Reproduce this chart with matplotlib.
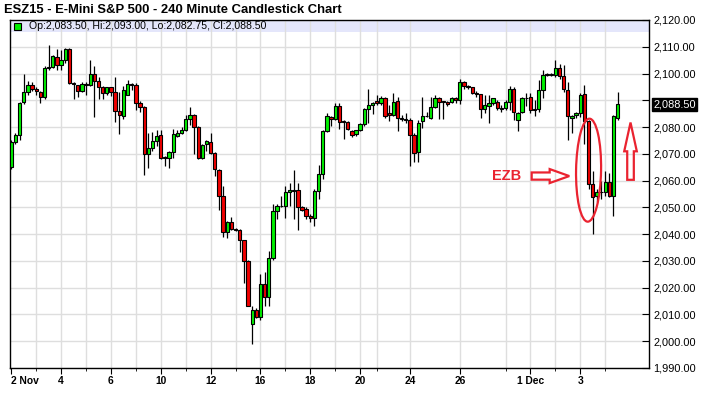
import numpy as np
import matplotlib
matplotlib.use("Agg")
from matplotlib import pyplot as plt
from matplotlib.patches import Polygon, Ellipse, Rectangle
from matplotlib.transforms import Affine2D, ScaledTranslation, IdentityTransform

# 240-minute bars (index 0 = first bar of 2 Nov)
opens = [2065.0, 2074.4, 2077.0, 2089.4, 2093.1, 2095.9, 2094.4, 2093.1, 2091.2, 2101.9,
         2102.5, 2106.3, 2103.1, 2105.2, 2109.0, 2096.6, 2095.6, 2093.4, 2096.2, 2095.9,
         2100.0, 2097.1, 2095.0, 2092.9, 2094.8, 2093.1, 2085.9, 2084.1, 2092.1, 2096.0,
         2095.7, 2089.1, 2087.4, 2070.0, 2072.2, 2074.7, 2077.0, 2068.8, 2068.5, 2070.7,
         2076.8, 2077.8, 2078.9, 2083.0, 2084.4, 2080.2, 2068.5, 2073.5, 2074.4, 2070.4,
         2063.8, 2054.1, 2040.7, 2044.7, 2042.0, 2041.7, 2037.7, 2030.0, 2006.5, 2011.5,
         2008.9, 2021.4, 2016.7, 2031.1, 2048.8, 2050.4, 2050.4, 2055.6, 2056.4, 2056.5,
         2050.0, 2049.4, 2046.9, 2045.9, 2056.2, 2062.6, 2078.6, 2083.7, 2083.0, 2087.7,
         2082.2, 2082.0, 2078.5, 2077.3, 2078.8, 2081.1, 2086.7, 2088.1, 2089.9, 2088.9,
         2090.7, 2085.2, 2084.6, 2089.9, 2083.3, 2083.0, 2082.7, 2077.2, 2070.6, 2082.3,
         2084.0, 2083.3, 2087.4, 2090.7, 2089.3, 2089.5, 2089.5, 2090.7, 2090.1, 2096.7,
         2095.4, 2094.8, 2092.8, 2092.2, 2086.8, 2088.0, 2088.9, 2089.5, 2087.3, 2087.0,
         2089.5, 2094.4, 2082.7, 2085.8, 2090.7, 2091.4, 2086.7, 2086.7, 2093.8, 2099.4,
         2099.6, 2099.4, 2102.2, 2099.0, 2093.8, 2083.3, 2084.6, 2085.2, 2092.2, 2082.1,
         2058.6, 2054.3, 2055.6, 2055.6, 2059.5, 2054.3, 2083.5]
highs = [2075.0, 2077.8, 2089.5, 2100.0, 2097.2, 2096.9, 2095.0, 2093.5, 2102.9, 2110.6,
         2106.9, 2109.1, 2108.8, 2109.6, 2109.5, 2096.9, 2095.9, 2096.9, 2096.9, 2105.0,
         2103.0, 2098.8, 2095.4, 2095.0, 2095.0, 2098.8, 2093.0, 2095.2, 2097.5, 2096.3,
         2096.3, 2089.9, 2087.7, 2077.8, 2078.0, 2079.0, 2078.8, 2069.1, 2071.0, 2079.3,
         2078.8, 2080.2, 2084.6, 2087.4, 2084.7, 2080.5, 2073.5, 2075.3, 2077.8, 2070.6,
         2064.2, 2058.0, 2045.1, 2046.3, 2042.3, 2042.0, 2037.9, 2030.2, 2013.0, 2012.3,
         2025.3, 2025.9, 2033.6, 2051.2, 2051.2, 2054.3, 2058.0, 2059.0, 2063.8, 2059.0,
         2050.6, 2050.0, 2047.5, 2056.8, 2065.7, 2079.0, 2085.2, 2084.2, 2088.9, 2089.1,
         2082.7, 2082.2, 2078.8, 2079.0, 2081.5, 2087.0, 2094.4, 2089.5, 2092.0, 2091.6,
         2091.3, 2088.3, 2092.9, 2091.4, 2084.6, 2085.2, 2083.3, 2077.8, 2082.7, 2091.4,
         2085.8, 2091.4, 2091.9, 2091.4, 2089.8, 2089.9, 2091.4, 2091.4, 2097.9, 2097.2,
         2095.7, 2095.1, 2093.4, 2092.2, 2091.9, 2092.1, 2090.9, 2090.1, 2088.3, 2090.1,
         2095.2, 2095.1, 2085.8, 2091.4, 2092.8, 2092.6, 2090.1, 2097.5, 2101.2, 2100.1,
         2100.1, 2105.2, 2103.7, 2103.1, 2096.9, 2084.6, 2085.8, 2092.6, 2095.7, 2082.5,
         2063.6, 2056.8, 2059.7, 2063.6, 2063.0, 2084.6, 2093.0]
lows = [2064.4, 2073.8, 2075.0, 2088.8, 2092.0, 2093.4, 2092.0, 2089.0, 2090.6, 2101.2,
        2101.9, 2101.2, 2101.5, 2104.0, 2096.0, 2090.6, 2091.2, 2093.0, 2091.9, 2095.2,
        2083.8, 2090.6, 2090.6, 2091.9, 2091.6, 2081.9, 2077.5, 2083.1, 2091.9, 2093.8,
        2086.4, 2085.8, 2062.0, 2064.8, 2071.0, 2073.0, 2068.1, 2065.4, 2064.8, 2068.5,
        2076.3, 2077.5, 2078.5, 2080.9, 2069.8, 2067.9, 2068.1, 2071.0, 2069.8, 2061.7,
        2049.1, 2038.9, 2038.5, 2041.4, 2041.2, 2033.3, 2021.6, 2013.0, 1998.8, 2008.6,
        2008.0, 2013.3, 2013.3, 2030.2, 2045.7, 2050.0, 2045.9, 2050.4, 2045.7, 2041.7,
        2048.8, 2045.7, 2044.7, 2043.2, 2053.1, 2060.5, 2078.3, 2080.5, 2082.5, 2079.4,
        2075.6, 2079.0, 2076.3, 2076.8, 2078.5, 2080.5, 2081.5, 2084.9, 2088.3, 2088.3,
        2083.3, 2082.1, 2084.0, 2078.4, 2082.1, 2081.5, 2065.4, 2067.0, 2067.0, 2079.6,
        2083.9, 2083.0, 2087.0, 2083.0, 2083.0, 2088.0, 2089.0, 2089.0, 2088.5, 2094.4,
        2094.4, 2092.2, 2091.4, 2083.3, 2085.2, 2081.5, 2088.3, 2086.4, 2085.8, 2086.4,
        2086.4, 2082.5, 2078.4, 2085.2, 2087.9, 2085.2, 2084.0, 2085.8, 2090.7, 2099.0,
        2099.0, 2098.8, 2098.1, 2093.2, 2075.3, 2077.8, 2083.3, 2083.9, 2073.5, 2056.8,
        2040.1, 2051.9, 2053.0, 2054.4, 2053.7, 2046.9, 2082.75]
closes = [2074.4, 2076.9, 2089.1, 2093.1, 2095.9, 2094.1, 2093.4, 2091.2, 2101.9, 2102.5,
          2106.6, 2103.1, 2105.2, 2109.0, 2096.6, 2096.2, 2093.5, 2096.2, 2095.6, 2100.0,
          2097.1, 2095.0, 2092.9, 2094.8, 2093.1, 2085.9, 2084.4, 2093.8, 2096.0, 2095.6,
          2089.1, 2087.4, 2070.0, 2072.2, 2074.7, 2076.8, 2068.5, 2068.5, 2070.7, 2077.3,
          2077.8, 2078.9, 2083.0, 2084.4, 2080.2, 2068.5, 2073.2, 2074.9, 2070.4, 2064.2,
          2054.1, 2040.7, 2044.7, 2042.0, 2041.7, 2037.7, 2030.0, 2013.3, 2011.5, 2008.9,
          2021.4, 2016.7, 2031.1, 2048.8, 2050.4, 2050.6, 2055.6, 2056.4, 2056.2, 2050.0,
          2049.1, 2046.9, 2045.9, 2056.2, 2062.6, 2078.6, 2084.0, 2083.0, 2087.7, 2082.0,
          2082.0, 2079.3, 2077.0, 2078.8, 2081.1, 2086.7, 2088.1, 2089.1, 2088.9, 2090.7,
          2084.0, 2084.6, 2089.5, 2083.3, 2083.0, 2082.7, 2077.2, 2070.4, 2081.7, 2084.0,
          2084.2, 2087.4, 2090.7, 2089.3, 2089.3, 2088.5, 2090.7, 2090.1, 2096.7, 2095.4,
          2095.1, 2092.8, 2092.2, 2086.8, 2088.3, 2088.9, 2090.7, 2087.0, 2086.8, 2089.3,
          2094.4, 2085.8, 2085.2, 2090.7, 2091.0, 2086.4, 2086.4, 2093.8, 2099.4, 2099.6,
          2099.4, 2102.2, 2099.0, 2094.1, 2084.0, 2084.3, 2085.2, 2092.0, 2082.1, 2058.6,
          2053.7, 2055.8, 2055.8, 2059.5, 2054.3, 2084.0, 2088.5]

date_ticks = [0, 12, 24, 36, 48, 60, 72, 84, 96, 108, 125, 137]
date_labels = ["2 Nov", "4", "6", "10", "12", "16", "18", "20", "24", "26", "1 Dec", "3"]
day_lines = [6, 12, 18, 24, 30, 36, 42, 48, 54, 60, 66, 72, 78, 84, 88, 96, 108,
             119, 125, 131, 137, 143]
price_ticks = np.arange(1990, 2121, 10)
last_price = 2088.50

title = "ESZ15 - E-Mini S&P 500 - 240 Minute Candlestick Chart"
ohlc_text = "Op:2,083.50, Hi:2,093.00, Lo:2,082.75, Cl:2,088.50"

# annotation anchors (bar index, price)
ezb_pos = (119.2, 2061.7)
right_arrow_pos = (125.3, 2061.7)
ellipse_pos = (139.0, 2063.9)
up_arrow_pos = (149.1, 2060.3)

GREEN = "#00f000"
RED = "#f00000"
ANNOT = "#ea2330"

o = np.array(opens)
h = np.array(highs)
l = np.array(lows)
c = np.array(closes)
x = np.arange(len(o))

W, H = 712, 396
fig = plt.figure(figsize=(W / 100, H / 100), dpi=100)
ax = fig.add_axes([10 / W, 28 / H, 639 / W, 348 / H])

ax.set_xlim(-0.31, 153.55)
ax.set_ylim(1990, 2120)

# header band
ax.axhspan(2120 - 12 / 2.68, 2120, color="#e4e6fb", zorder=0, lw=0)

for p in price_ticks:
    ax.axhline(p, color="#dedede", lw=1, zorder=1)
for d in day_lines:
    ax.axvline(d, color="#dedede", lw=1, zorder=1)

ax.vlines(x, l, h, color="black", lw=0.9, zorder=2)
body_lo = np.minimum(o, c)
body_h = np.maximum(np.abs(c - o), 0.3)
colors = np.where(c >= o, GREEN, RED)
ax.bar(x, body_h, bottom=body_lo, width=0.8, color=colors,
       edgecolor="black", linewidth=0.8, zorder=3)

# axes styling
for side in ["left", "right", "bottom", "top"]:
    ax.spines[side].set_linewidth(1)
    ax.spines[side].set_color("black")

ax.yaxis.tick_right()
ax.set_yticks(price_ticks)
ax.set_yticklabels(["" if p == 2090 else f"{p:,.2f}" for p in price_ticks],
                   family="Liberation Sans", fontsize=7.9)
ax.tick_params(axis="y", direction="in", length=5, pad=3, right=True, left=False)

ax.set_xticks(date_ticks)
ax.set_xticklabels(date_labels, family=["Liberation Sans Narrow", "Liberation Sans"],
                   fontsize=7.4, fontweight="bold")
ax.set_xticks(day_lines, minor=True)
ax.tick_params(axis="x", which="major", direction="out", length=4, pad=2)
ax.tick_params(axis="x", which="minor", direction="out", length=2)
# keep the first date label inside the picture
first = ax.get_xticklabels()[0]
first.set_horizontalalignment("left")
first.set_x(-0.31)

# last price tag
ax.text(1 + 4 / 639, last_price, f"{last_price:,.2f}", transform=ax.get_yaxis_transform(),
        ha="left", va="center", color="white", family="Liberation Sans", fontsize=7.9,
        bbox=dict(boxstyle="square,pad=0.12", facecolor="black", edgecolor="black"))

# title and OHLC line
fig.text(4 / W, 1 - 10 / H, title, ha="left", va="center", fontsize=9.4,
         fontweight="bold", family="Liberation Sans")
fig.add_artist(Rectangle((14, H - 30), 7, 7, transform=IdentityTransform(),
                         facecolor=GREEN, edgecolor="black", lw=0.8))
fig.text(29 / W, 1 - 26 / H, ohlc_text, ha="left", va="center", fontsize=7.6,
         family="Liberation Sans")


def px_anchor(pos):
    # offsets in pixels around a data-coordinate anchor
    return Affine2D() + ScaledTranslation(pos[0], pos[1], ax.transData)


ax.text(*ezb_pos, "EZB", color=ANNOT, fontsize=10.5, fontweight="bold",
        family="Liberation Sans", ha="center", va="center", zorder=5)

right_arrow = [(0, -3.6), (18, -3.6), (18, -7), (37.6, 0), (18, 7), (18, 3.6), (0, 3.6)]
ax.add_patch(Polygon(right_arrow, closed=True, fill=False, edgecolor=ANNOT, lw=1.6,
                     transform=px_anchor(right_arrow_pos), zorder=5))

up_arrow = [(-3.3, 0), (3.3, 0), (3.3, 28.5), (6.3, 28.5), (0, 57.3), (-6.3, 28.5), (-3.3, 28.5)]
ax.add_patch(Polygon(up_arrow, closed=True, fill=False, edgecolor=ANNOT, lw=1.6,
                     transform=px_anchor(up_arrow_pos), zorder=5))

ax.add_patch(Ellipse((0, 0), 25, 103, angle=-1, fill=False, edgecolor=ANNOT, lw=1.6,
                     transform=px_anchor(ellipse_pos), zorder=5))

fig.savefig("out.png", dpi=100)
plt.close(fig)
